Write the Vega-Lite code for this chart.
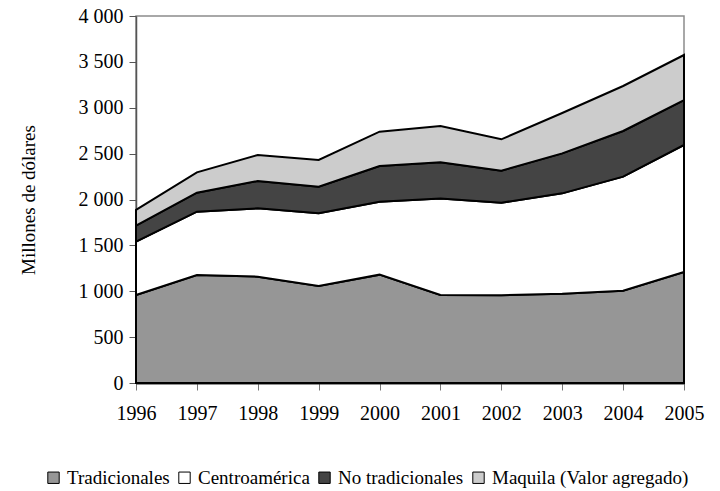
{
  "$schema": "https://vega.github.io/schema/vega-lite/v6.json",
  "autosize": {"type": "none"},
  "width": 548,
  "height": 367,
  "padding": {"left": 136, "top": 16, "right": 36, "bottom": 108},
  "background": "white",
  "config": {
    "view": {"stroke": "#8c8c8c", "strokeWidth": 1.5},
    "font": "Liberation Serif"
  },
  "data": {
    "values": [
      {"anio": 1996, "serie": "Tradicionales", "orden": 1, "valor": 959},
      {"anio": 1997, "serie": "Tradicionales", "orden": 1, "valor": 1177},
      {"anio": 1998, "serie": "Tradicionales", "orden": 1, "valor": 1159},
      {"anio": 1999, "serie": "Tradicionales", "orden": 1, "valor": 1057},
      {"anio": 2000, "serie": "Tradicionales", "orden": 1, "valor": 1181},
      {"anio": 2001, "serie": "Tradicionales", "orden": 1, "valor": 959},
      {"anio": 2002, "serie": "Tradicionales", "orden": 1, "valor": 956},
      {"anio": 2003, "serie": "Tradicionales", "orden": 1, "valor": 973},
      {"anio": 2004, "serie": "Tradicionales", "orden": 1, "valor": 1006},
      {"anio": 2005, "serie": "Tradicionales", "orden": 1, "valor": 1210},
      {"anio": 1996, "serie": "Centroamérica", "orden": 2, "valor": 581},
      {"anio": 1997, "serie": "Centroamérica", "orden": 2, "valor": 690},
      {"anio": 1998, "serie": "Centroamérica", "orden": 2, "valor": 745},
      {"anio": 1999, "serie": "Centroamérica", "orden": 2, "valor": 793},
      {"anio": 2000, "serie": "Centroamérica", "orden": 2, "valor": 795},
      {"anio": 2001, "serie": "Centroamérica", "orden": 2, "valor": 1051},
      {"anio": 2002, "serie": "Centroamérica", "orden": 2, "valor": 1009},
      {"anio": 2003, "serie": "Centroamérica", "orden": 2, "valor": 1094},
      {"anio": 2004, "serie": "Centroamérica", "orden": 2, "valor": 1243},
      {"anio": 2005, "serie": "Centroamérica", "orden": 2, "valor": 1384},
      {"anio": 1996, "serie": "No tradicionales", "orden": 3, "valor": 175},
      {"anio": 1997, "serie": "No tradicionales", "orden": 3, "valor": 207},
      {"anio": 1998, "serie": "No tradicionales", "orden": 3, "valor": 298},
      {"anio": 1999, "serie": "No tradicionales", "orden": 3, "valor": 290},
      {"anio": 2000, "serie": "No tradicionales", "orden": 3, "valor": 389},
      {"anio": 2001, "serie": "No tradicionales", "orden": 3, "valor": 395},
      {"anio": 2002, "serie": "No tradicionales", "orden": 3, "valor": 349},
      {"anio": 2003, "serie": "No tradicionales", "orden": 3, "valor": 436},
      {"anio": 2004, "serie": "No tradicionales", "orden": 3, "valor": 498},
      {"anio": 2005, "serie": "No tradicionales", "orden": 3, "valor": 490},
      {"anio": 1996, "serie": "Maquila (Valor agregado)", "orden": 4, "valor": 171},
      {"anio": 1997, "serie": "Maquila (Valor agregado)", "orden": 4, "valor": 222},
      {"anio": 1998, "serie": "Maquila (Valor agregado)", "orden": 4, "valor": 283},
      {"anio": 1999, "serie": "Maquila (Valor agregado)", "orden": 4, "valor": 291},
      {"anio": 2000, "serie": "Maquila (Valor agregado)", "orden": 4, "valor": 374},
      {"anio": 2001, "serie": "Maquila (Valor agregado)", "orden": 4, "valor": 396},
      {"anio": 2002, "serie": "Maquila (Valor agregado)", "orden": 4, "valor": 342},
      {"anio": 2003, "serie": "Maquila (Valor agregado)", "orden": 4, "valor": 440},
      {"anio": 2004, "serie": "Maquila (Valor agregado)", "orden": 4, "valor": 490},
      {"anio": 2005, "serie": "Maquila (Valor agregado)", "orden": 4, "valor": 491}
    ]
  },
  "mark": {"type": "area", "stroke": "black", "strokeWidth": 2, "strokeJoin": "miter"},
  "encoding": {
    "x": {
      "field": "anio",
      "type": "quantitative",
      "scale": {"domain": [1996, 2005], "nice": false, "zero": false},
      "axis": {
        "title": null,
        "values": [1996, 1997, 1998, 1999, 2000, 2001, 2002, 2003, 2004, 2005],
        "format": "d",
        "grid": false,
        "domainColor": "#222",
        "domainWidth": 2,
        "tickColor": "#777",
        "tickSize": 7,
        "labelFont": "Liberation Serif",
        "labelFontSize": 20,
        "labelColor": "black",
        "labelPadding": 13,
        "labelFlush": false
      }
    },
    "y": {
      "field": "valor",
      "type": "quantitative",
      "stack": "zero",
      "scale": {"domain": [0, 4000], "nice": false},
      "axis": {
        "title": "Millones de dólares",
        "titleFont": "Liberation Serif",
        "titleFontSize": 19,
        "titleFontWeight": "normal",
        "titleColor": "black",
        "titlePadding": 40,
        "values": [0, 500, 1000, 1500, 2000, 2500, 3000, 3500, 4000],
        "labelExpr": "replace(format(datum.value, ','), ',', ' ')",
        "grid": false,
        "domainColor": "#555",
        "domainWidth": 1.5,
        "tickColor": "#555",
        "tickSize": 7,
        "labelFont": "Liberation Serif",
        "labelFontSize": 20,
        "labelColor": "black",
        "labelPadding": 6
      }
    },
    "color": {
      "field": "serie",
      "type": "nominal",
      "scale": {
        "domain": ["Tradicionales", "Centroamérica", "No tradicionales", "Maquila (Valor agregado)"],
        "range": ["#969696", "#ffffff", "#444444", "#cccccc"]
      },
      "legend": {
        "title": null,
        "orient": "none",
        "legendX": -92,
        "legendY": 452,
        "direction": "horizontal",
        "columns": 4,
        "symbolType": "square",
        "symbolSize": 130,
        "symbolStrokeColor": "black",
        "symbolStrokeWidth": 1,
        "symbolOpacity": 1,
        "labelFont": "Liberation Serif",
        "labelFontSize": 19,
        "labelColor": "black",
        "labelOffset": 4,
        "columnPadding": 5,
        "labelLimit": 400
      }
    },
    "order": {"field": "orden", "type": "quantitative"}
  }
}
